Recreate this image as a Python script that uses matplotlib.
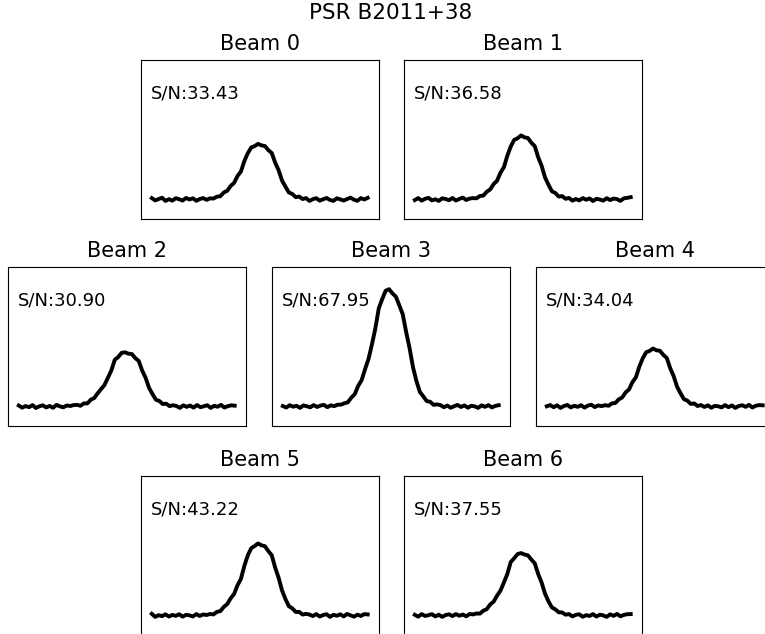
import numpy as np
import matplotlib
matplotlib.use("Agg")
import matplotlib.pyplot as plt

W, H = 765, 634

beam_names = ["Beam 0", "Beam 1", "Beam 2", "Beam 3", "Beam 4", "Beam 5", "Beam 6"]
snr = ["33.43", "36.58", "30.90", "67.95", "34.04", "43.22", "37.55"]

# pulse profiles, 64 phase bins, normalised so the brightest beam (3) peaks at 1
prof0 = [0.012, -0.008, 0.004, 0.015, -0.012, 0.003, -0.010, 0.011, 0.002, -0.009, 0.013, 0.000, 0.010, -0.011, 0.004, 0.012, -0.003,
         0.010, 0.008, 0.024, 0.028, 0.060, 0.074, 0.115, 0.141, 0.200, 0.238, 0.327, 0.394, 0.443, 0.455, 0.474, 0.461, 0.456, 0.421, 0.396,
         0.314, 0.250, 0.162, 0.109, 0.060, 0.047, 0.020, 0.025, 0.004, 0.012,
         -0.012, 0.003, 0.011, -0.010, 0.002, 0.013, -0.004, -0.012, 0.010, 0.001, -0.009, 0.004, 0.016, -0.002, -0.011, 0.012, 0.000, 0.014]
prof1 = [-0.005, 0.012, -0.010, 0.006, 0.014, -0.008, 0.002, -0.012, 0.010, 0.004, -0.006, 0.013, -0.009, 0.005, 0.016, -0.004, 0.008,
         0.012, 0.010, 0.030, 0.033, 0.066, 0.086, 0.131, 0.160, 0.228, 0.275, 0.373, 0.452, 0.508, 0.522, 0.546, 0.530, 0.524, 0.484, 0.455,
         0.360, 0.288, 0.188, 0.126, 0.070, 0.056, 0.025, 0.029, 0.006, 0.013,
         -0.010, 0.004, -0.008, 0.012, -0.002, 0.009, -0.013, 0.006, 0.000, -0.010, 0.011, -0.005, 0.008, 0.003, -0.012, 0.010, 0.014, 0.020]
prof2 = [0.008, -0.010, 0.004, -0.006, 0.012, -0.013, 0.002, 0.010, -0.008, 0.005, -0.011, 0.014, 0.001, -0.007, 0.009, 0.004, 0.012,
         0.014, 0.006, 0.027, 0.026, 0.058, 0.072, 0.112, 0.148, 0.183, 0.245, 0.307, 0.398, 0.421, 0.457, 0.462, 0.450, 0.447, 0.412, 0.388,
         0.306, 0.245, 0.159, 0.106, 0.058, 0.047, 0.021, 0.024, 0.003, 0.011,
         0.004, -0.012, 0.010, -0.003, 0.008, -0.010, 0.013, -0.006, 0.002, 0.011, -0.012, 0.006, -0.002, 0.014, -0.009, 0.003, 0.010, 0.007]
prof3 = [0.004, -0.009, 0.011, -0.002, 0.006, -0.012, 0.009, 0.002, -0.007, 0.012, -0.004, 0.008, 0.014, -0.006, 0.010, 0.003, 0.015,
         0.016, 0.028, 0.036, 0.076, 0.105, 0.176, 0.224, 0.318, 0.404, 0.528, 0.664, 0.836, 0.915, 0.986, 1.000, 0.964, 0.936, 0.862, 0.786,
         0.634, 0.496, 0.334, 0.216, 0.124, 0.086, 0.046, 0.040, 0.014, 0.018,
         0.012, -0.006, 0.008, -0.011, 0.003, 0.013, -0.004, 0.009, -0.010, 0.006, 0.001, -0.012, 0.010, -0.003, 0.012, -0.008, 0.005, 0.011]
prof4 = [0.002, 0.012, -0.006, 0.010, -0.012, 0.004, 0.013, -0.008, 0.006, -0.003, 0.011, -0.010, 0.008, 0.015, -0.005, 0.009, 0.003,
         0.011, 0.006, 0.026, 0.030, 0.061, 0.077, 0.120, 0.146, 0.208, 0.249, 0.340, 0.411, 0.462, 0.474, 0.494, 0.479, 0.475, 0.440, 0.414,
         0.327, 0.260, 0.170, 0.114, 0.063, 0.050, 0.022, 0.026, 0.004, 0.012,
         -0.004, 0.010, -0.011, 0.005, 0.002, -0.008, 0.012, -0.006, 0.009, -0.012, 0.004, 0.011, -0.003, 0.014, -0.009, 0.007, 0.012, 0.010]
prof5 = [0.014, -0.012, 0.003, -0.006, 0.010, -0.009, 0.005, -0.003, 0.011, -0.010, 0.006, 0.001, -0.008, 0.012, -0.004, 0.009, 0.004,
         0.013, 0.009, 0.031, 0.037, 0.073, 0.097, 0.146, 0.183, 0.257, 0.311, 0.422, 0.512, 0.573, 0.592, 0.614, 0.598, 0.591, 0.549, 0.513,
         0.408, 0.322, 0.214, 0.140, 0.079, 0.061, 0.030, 0.031, 0.008, 0.014,
         0.008, -0.005, 0.012, -0.009, 0.004, 0.011, -0.012, 0.006, -0.002, 0.010, -0.008, 0.013, 0.001, -0.010, 0.007, -0.004, 0.012, 0.009]
prof6 = [0.006, -0.010, 0.012, -0.004, 0.003, 0.011, -0.008, 0.007, -0.012, 0.004, 0.010, -0.005, 0.012, -0.002, 0.008, -0.007, 0.013,
         0.009, 0.017, 0.016, 0.041, 0.054, 0.094, 0.118, 0.169, 0.212, 0.281, 0.354, 0.456, 0.488, 0.524, 0.532, 0.520, 0.513, 0.477, 0.445,
         0.354, 0.281, 0.186, 0.121, 0.069, 0.052, 0.027, 0.026, 0.007, 0.012,
         -0.008, 0.006, 0.010, -0.011, 0.003, -0.004, 0.012, -0.009, 0.007, 0.001, -0.012, 0.010, -0.003, 0.013, -0.007, 0.005, 0.011, 0.012]
profiles = [prof0, prof1, prof2, prof3, prof4, prof5, prof6]

# panel placement in pixels (left, top), hexagonal beam layout
lefts = [141, 404, 8, 272, 536, 141, 404]
tops = [60, 60, 267, 267, 267, 476, 476]
pw, ph = 237.5, 158.5

fig = plt.figure(figsize=(W / 100, H / 100), dpi=100)

for i in range(7):
    ax = fig.add_axes([lefts[i] / W, 1 - (tops[i] + ph) / H, pw / W, ph / H])
    prof = np.array(profiles[i])
    ax.plot(np.arange(len(prof)), prof, color="k", lw=2.8)
    ax.set_ylim(-0.162, 1.189)
    ax.set_xticks([])
    ax.set_yticks([])
    ax.set_title(beam_names[i], fontsize=15, pad=7.5)
    ax.text(0.042, 0.79, "S/N:" + snr[i], transform=ax.transAxes,
            fontsize=13, va="center", ha="left")

fig.text(391 / W, 1 - 19 / H, "PSR B2011+38", fontsize=15.5,
         ha="center", va="baseline")

fig.savefig("out.png", dpi=100)
